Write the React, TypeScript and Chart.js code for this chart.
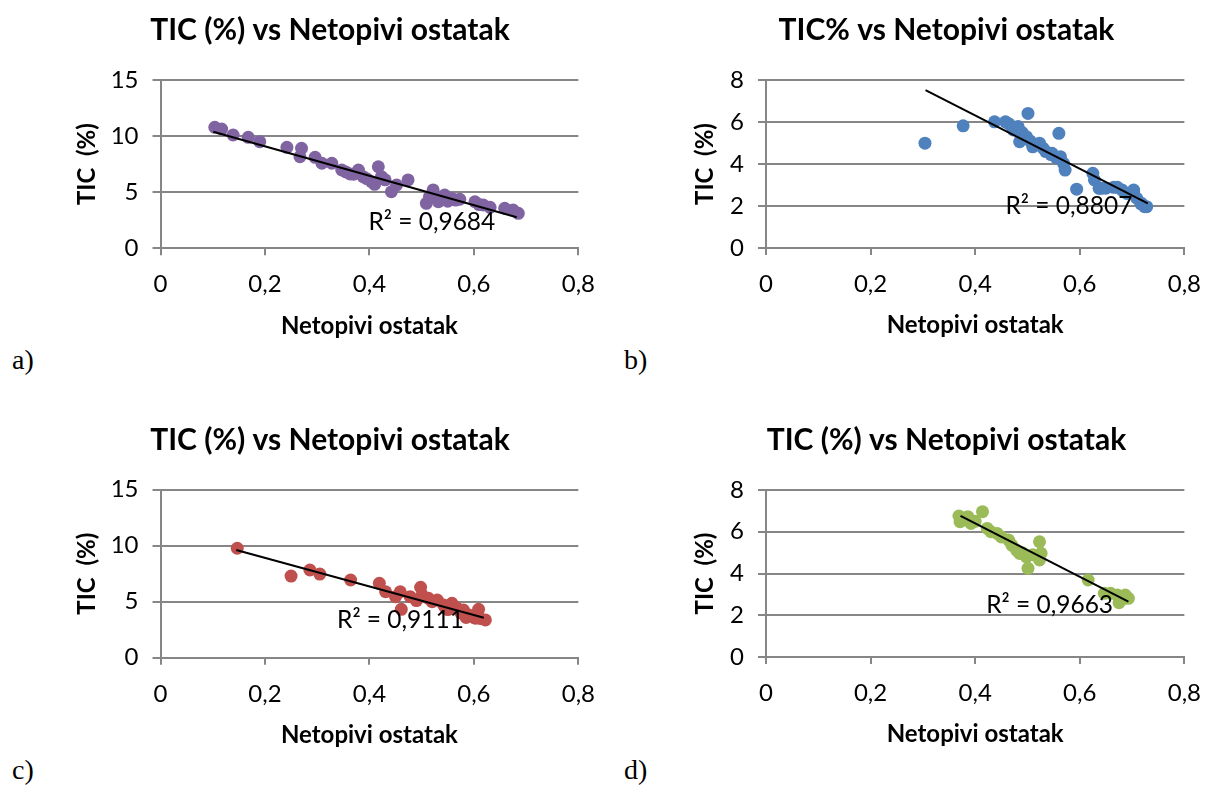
import React, { useEffect, useRef } from "react";
import { Chart, registerables } from "chart.js";

Chart.register(...registerables);

const FONT = "Lato, 'Open Sans', sans-serif";
const GRID = "#868686";

// ---------- shared tick labels ----------
const xTickLabels = ["0", "0,2", "0,4", "0,6", "0,8"];
const yTicks15 = ["0", "5", "10", "15"];
const yTicks8 = ["0", "2", "4", "6", "8"];

// ---------- panel a ----------
const aTitle = "TIC (%) vs Netopivi ostatak";
const aX = [0.104, 0.117, 0.139, 0.168, 0.19, 0.242, 0.27, 0.267, 0.296, 0.309, 0.328, 0.347, 0.355, 0.363, 0.37, 0.379, 0.388, 0.395, 0.404, 0.41, 0.417, 0.423, 0.43, 0.442, 0.452, 0.474, 0.509, 0.515, 0.522, 0.532, 0.535, 0.544, 0.55, 0.557, 0.565, 0.573, 0.602, 0.61, 0.618, 0.631, 0.659, 0.675, 0.685];
const aY = [10.78, 10.63, 10.1, 9.89, 9.5, 9.0, 8.91, 8.16, 8.11, 7.58, 7.58, 6.98, 6.8, 6.62, 6.6, 6.98, 6.38, 6.2, 5.94, 5.7, 7.27, 6.38, 6.1, 5.04, 5.64, 6.09, 4.01, 4.6, 5.2, 4.15, 4.5, 4.75, 4.2, 4.46, 4.3, 4.37, 4.15, 3.9, 3.86, 3.65, 3.57, 3.41, 3.12];
const aTrendX = [0.101, 0.682];
const aTrendY = [10.39, 2.76];
const aR2 = "R² = 0,9684";
const aR2At = [0.398, 2.37];

// ---------- panel b ----------
const bTitle = "TIC% vs Netopivi ostatak";
const bX = [0.304, 0.377, 0.437, 0.458, 0.465, 0.473, 0.482, 0.485, 0.49, 0.498, 0.501, 0.505, 0.51, 0.523, 0.53, 0.535, 0.545, 0.547, 0.555, 0.56, 0.563, 0.569, 0.572, 0.594, 0.625, 0.628, 0.637, 0.641, 0.65, 0.665, 0.672, 0.681, 0.69, 0.703, 0.703, 0.709, 0.717, 0.718, 0.724, 0.728];
const bY = [4.99, 5.82, 6.01, 6.01, 5.9, 5.62, 5.78, 5.06, 5.5, 5.3, 6.41, 5.1, 4.82, 4.99, 4.75, 4.59, 4.45, 4.51, 4.3, 5.46, 4.35, 4.03, 3.71, 2.8, 3.56, 3.24, 2.84, 2.84, 2.85, 2.89, 2.89, 2.76, 2.6, 2.76, 2.68, 2.37, 2.1, 2.13, 1.97, 1.97];
const bTrendX = [0.305, 0.73];
const bTrendY = [7.52, 2.13];
const bR2 = "R² = 0,8807";
const bR2At = [0.458, 2.0];

// ---------- panel c ----------
const cTitle = "TIC (%) vs Netopivi ostatak";
const cX = [0.147, 0.25, 0.286, 0.305, 0.364, 0.419, 0.431, 0.45, 0.459, 0.461, 0.478, 0.49, 0.498, 0.501, 0.513, 0.52, 0.53, 0.542, 0.545, 0.55, 0.558, 0.568, 0.575, 0.58, 0.585, 0.59, 0.6, 0.603, 0.609, 0.612, 0.622];
const cY = [9.77, 7.29, 7.83, 7.47, 6.94, 6.64, 5.89, 5.45, 5.89, 4.32, 5.45, 5.1, 6.29, 5.6, 5.3, 5.0, 5.15, 4.71, 4.5, 4.3, 4.86, 4.41, 4.0, 4.26, 3.6, 3.81, 3.6, 3.52, 4.32, 3.5, 3.37];
const cTrendX = [0.145, 0.619];
const cTrendY = [9.62, 3.57];
const cR2 = "R² = 0,9111";
const cR2At = [0.338, 3.37];

// ---------- panel d ----------
const dTitle = "TIC (%) vs Netopivi ostatak";
const dX = [0.369, 0.371, 0.376, 0.386, 0.392, 0.4, 0.414, 0.423, 0.43, 0.442, 0.45, 0.464, 0.47, 0.479, 0.485, 0.49, 0.498, 0.501, 0.51, 0.523, 0.523, 0.526, 0.616, 0.647, 0.659, 0.672, 0.675, 0.68, 0.687, 0.693];
const dY = [6.75, 6.48, 6.6, 6.72, 6.4, 6.5, 6.96, 6.16, 6.0, 5.92, 5.75, 5.6, 5.36, 5.12, 4.96, 5.0, 4.8, 4.25, 4.9, 5.52, 4.65, 4.97, 3.69, 3.05, 3.05, 2.97, 2.6, 2.75, 2.97, 2.81];
const dTrendX = [0.372, 0.693];
const dTrendY = [6.76, 2.65];
const dR2 = "R² = 0,9663";
const dR2At = [0.421, 2.49];

const xTitle = "Netopivi ostatak";
const yTitle = "TIC  (%)";

type Panel = {
  title: string;
  xs: number[];
  ys: number[];
  tx: number[];
  ty: number[];
  r2: string;
  r2At: number[];
  color: string;
  yMax: number;
  yStep: number;
  yLabels: string[];
  canvasLeft: number;
  canvasTop: number;
  canvasWidth: number;
  titleCenter: number;
  plotLeft: number;
  plotRight: number;
  plotTop: number;
  plotBottom: number;
  yTitleX: number;
};

const CANVAS_H = 360;
const TITLE_SIZE = 30;
const AXIS_TITLE_SIZE = 24;
const TICK_SIZE = 24;
const R2_SIZE = 24.5;

const r2Plugin = {
  id: "r2label",
  afterDatasetsDraw(chart: any, _args: any, opts: any) {
    const { ctx, scales } = chart;
    ctx.save();
    ctx.font = `${R2_SIZE}px ${FONT}`;
    ctx.fillStyle = "#000";
    ctx.textAlign = "left";
    ctx.textBaseline = "middle";
    ctx.fillText(opts.text, scales.x.getPixelForValue(opts.x), scales.y.getPixelForValue(opts.y));
    ctx.restore();
  },
};

function ScatterPanel({ p }: { p: Panel }) {
  const ref = useRef<HTMLCanvasElement>(null);
  useEffect(() => {
    const padL = 2 * p.titleCenter - p.plotRight - p.canvasLeft;
    const plotRightRel = p.plotRight - p.canvasLeft;
    const padR = p.canvasWidth - plotRightRel;
    const yWidth = p.plotLeft - p.canvasLeft - padL;
    const plotTopRel = p.plotTop - p.canvasTop;
    const plotBottomRel = p.plotBottom - p.canvasTop;
    const xHeight = 100;
    const padB = CANVAS_H - (plotBottomRel + xHeight);
    const titleLH = TITLE_SIZE * 1.2;
    const titlePadTop = 30 - titleLH / 2;
    const titlePadBottom = plotTopRel - titlePadTop - titleLH;
    const yTitleLH = AXIS_TITLE_SIZE * 0.4;
    const yTitlePad = p.yTitleX - p.canvasLeft - padL - yTitleLH / 2;
    const xTitleCenterRel = plotBottomRel + 77.7;
    const xTitlePad = plotBottomRel + xHeight - xTitleCenterRel - (AXIS_TITLE_SIZE * 1.2) / 2;

    const chart = new Chart(ref.current as HTMLCanvasElement, {
      type: "scatter",
      data: {
        datasets: [
          {
            type: "line",
            data: p.tx.map((x, i) => ({ x, y: p.ty[i] })),
            borderColor: "#000",
            borderWidth: 2,
            pointRadius: 0,
            showLine: true,
            fill: false,
          } as any,
          {
            data: p.xs.map((x, i) => ({ x, y: p.ys[i] })),
            backgroundColor: p.color,
            borderColor: p.color,
            borderWidth: 0,
            pointRadius: 6.5,
          },
        ],
      },
      plugins: [r2Plugin as any],
      options: {
        responsive: false,
        animation: false,
        events: [],
        layout: { padding: { left: padL, right: padR, top: 0, bottom: padB } },
        plugins: {
          legend: { display: false },
          tooltip: { enabled: false },
          title: {
            display: true,
            text: p.title,
            color: "#000",
            font: { family: FONT, size: TITLE_SIZE, weight: "bold", lineHeight: 1.2 },
            padding: { top: titlePadTop, bottom: titlePadBottom },
          },
          r2label: { text: p.r2, x: p.r2At[0], y: p.r2At[1] },
        } as any,
        scales: {
          x: {
            type: "linear",
            min: 0,
            max: 0.8,
            afterFit: (s: any) => {
              s.height = xHeight;
            },
            ticks: {
              stepSize: 0.2,
              color: "#000",
              padding: 15,
              maxRotation: 0,
              font: { family: FONT, size: TICK_SIZE },
              callback: (_v: any, i: number) => xTickLabels[i],
            },
            grid: { drawOnChartArea: false, drawTicks: true, tickLength: 7, color: GRID, lineWidth: 2 },
            border: { display: true, color: GRID, width: 2 },
            title: {
              display: true,
              text: xTitle,
              color: "#000",
              font: { family: FONT, size: AXIS_TITLE_SIZE, weight: "bold", lineHeight: 1.2 },
              padding: { top: 0, bottom: xTitlePad },
            },
          },
          y: {
            type: "linear",
            min: 0,
            max: p.yMax,
            afterFit: (s: any) => {
              s.width = yWidth;
            },
            ticks: {
              stepSize: p.yStep,
              color: "#000",
              padding: 14,
              font: { family: FONT, size: TICK_SIZE },
              callback: (_v: any, i: number) => p.yLabels[i],
            },
            grid: { drawOnChartArea: true, drawTicks: true, tickLength: 8, color: GRID, lineWidth: 2 },
            border: { display: true, color: GRID, width: 2 },
            title: {
              display: true,
              text: yTitle,
              color: "#000",
              font: { family: FONT, size: AXIS_TITLE_SIZE, weight: "bold", lineHeight: 0.4 },
              padding: { top: yTitlePad, bottom: 0 },
            },
          },
        },
      } as any,
    });
    return () => chart.destroy();
  }, [p]);
  return (
    <canvas
      ref={ref}
      width={p.canvasWidth}
      height={CANVAS_H}
      style={{ position: "absolute", left: p.canvasLeft, top: p.canvasTop, width: p.canvasWidth, height: CANVAS_H }}
    />
  );
}

const PANELS: Panel[] = [
  {
    title: aTitle, xs: aX, ys: aY, tx: aTrendX, ty: aTrendY, r2: aR2, r2At: aR2At, color: "#8064A2",
    yMax: 15, yStep: 5, yLabels: yTicks15,
    canvasLeft: 40, canvasTop: 0, canvasWidth: 570, titleCenter: 330,
    plotLeft: 160.5, plotRight: 578.5, plotTop: 80, plotBottom: 248.3, yTitleX: 87.5,
  },
  {
    title: bTitle, xs: bX, ys: bY, tx: bTrendX, ty: bTrendY, r2: bR2, r2At: bR2At, color: "#4F81BD",
    yMax: 8, yStep: 2, yLabels: yTicks8,
    canvasLeft: 660, canvasTop: 0, canvasWidth: 556, titleCenter: 946.5,
    plotLeft: 766, plotRight: 1195.7, plotTop: 80, plotBottom: 248, yTitleX: 705,
  },
  {
    title: cTitle, xs: cX, ys: cY, tx: cTrendX, ty: cTrendY, r2: cR2, r2At: cR2At, color: "#C0504D",
    yMax: 15, yStep: 5, yLabels: yTicks15,
    canvasLeft: 40, canvasTop: 410, canvasWidth: 570, titleCenter: 330,
    plotLeft: 160.5, plotRight: 578.5, plotTop: 489.7, plotBottom: 657.7, yTitleX: 87.5,
  },
  {
    title: dTitle, xs: dX, ys: dY, tx: dTrendX, ty: dTrendY, r2: dR2, r2At: dR2At, color: "#9BBB59",
    yMax: 8, yStep: 2, yLabels: yTicks8,
    canvasLeft: 660, canvasTop: 410, canvasWidth: 556, titleCenter: 946.5,
    plotLeft: 766, plotRight: 1195.7, plotTop: 490, plotBottom: 657, yTitleX: 705,
  },
];

const panelLabels = ["a)", "b)", "c)", "d)"];
const labelPos = [
  { left: 12, top: 346 },
  { left: 624, top: 346 },
  { left: 12, top: 756 },
  { left: 624, top: 756 },
];

export default function App() {
  return (
    <div style={{ position: "absolute", left: 0, top: 0, width: 1216, height: 785, background: "#fff", overflow: "hidden" }}>
      {PANELS.map((p, i) => (
        <ScatterPanel key={i} p={p} />
      ))}
      {panelLabels.map((t, i) => (
        <div
          key={t}
          style={{
            position: "absolute",
            left: labelPos[i].left,
            top: labelPos[i].top,
            fontFamily: "'Liberation Serif', 'Times New Roman', serif",
            fontSize: 28,
            lineHeight: "28px",
            color: "#000",
          }}
        >
          {t}
        </div>
      ))}
    </div>
  );
}
